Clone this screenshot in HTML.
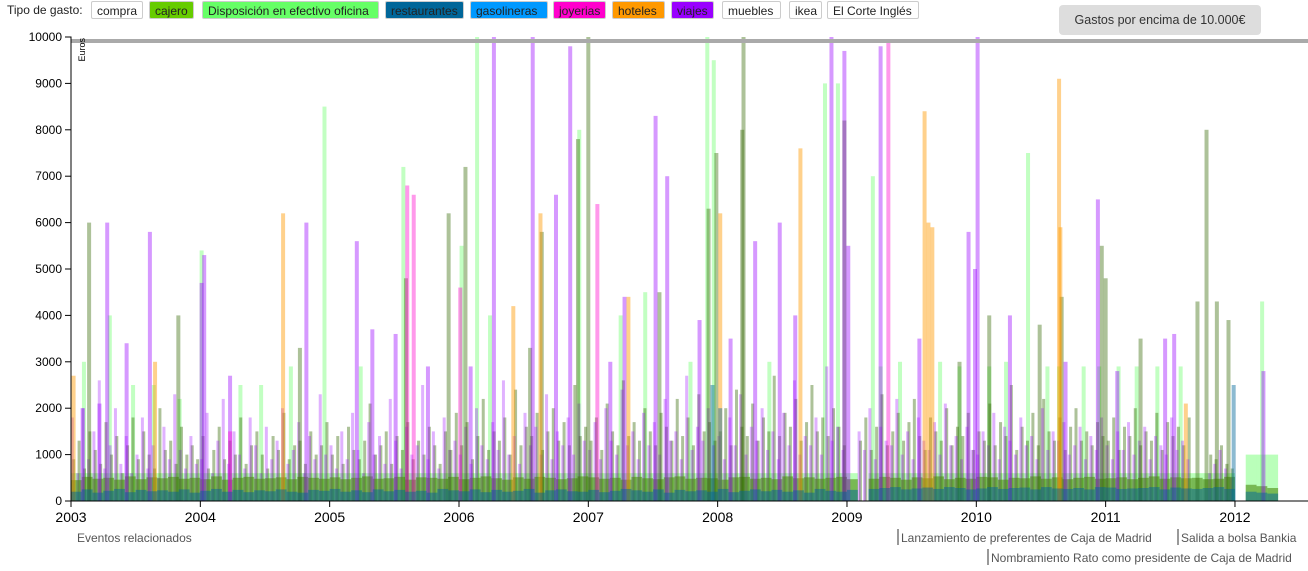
<!DOCTYPE html>
<html><head><meta charset="utf-8"><style>
body{margin:0;width:1308px;height:571px;overflow:hidden;background:#fff;font-family:"Liberation Sans",sans-serif;position:relative}
.lg{position:absolute;top:1px;height:18px;line-height:18px;font-size:12px;border:1px solid #ccc;border-radius:2px;padding:0 5px;box-sizing:border-box;color:#222}
#big{position:absolute;left:1059px;top:5px;width:202px;height:30px;background:#ddd;border-radius:4px;font-size:12.5px;line-height:30px;text-align:center;color:#333}
</style></head><body>
<div style="position:absolute;left:7px;top:3px;font-size:12px;color:#222">Tipo de gasto:</div>
<div class="lg" style="left:91px;width:52px;background:#fff">compra</div>
<div class="lg" style="left:149px;width:45px;background:#66cc00">cajero</div>
<div class="lg" style="left:202px;width:177px;background:#66ff66">Disposición en efectivo oficina</div>
<div class="lg" style="left:385px;width:79px;background:#006699">restaurantes</div>
<div class="lg" style="left:470px;width:78px;background:#0099ff">gasolineras</div>
<div class="lg" style="left:553px;width:53px;background:#ff00cc">joyerias</div>
<div class="lg" style="left:612px;width:53px;background:#ff9900">hoteles</div>
<div class="lg" style="left:671px;width:43px;background:#9900ff">viajes</div>
<div class="lg" style="left:722px;width:59px;background:#fff">muebles</div>
<div class="lg" style="left:789px;width:33px;background:#fff">ikea</div>
<div class="lg" style="left:827px;width:92px;background:#fff">El Corte Inglés</div>
<div id="big">Gastos por encima de 10.000€</div>
<svg id="c" width="1308" height="571" style="position:absolute;left:0;top:0"></svg>
<script>
const yTicks=[0,1000,2000,3000,4000,5000,6000,7000,8000,9000,10000];
const xTicks=[2003,2004,2005,2006,2007,2008,2009,2010,2011,2012];
const cajeroLow=[450,520,480,500,460,530,470,510,490,520,480,500,470,530,460,500,520,480,490,510,470,520,500,480,510,470,500,530,480,490,520,460,510,500,480,520,470,500,530,490,460,510,480,520,500,470,490,530,510,480,500,460,520,490,470,510,530,480,500,490,460,510,520,480,500,470,530,490,510,480,500,520,470,0,480,520,500,460,510,490,530,470,500,480,520,510,460,500,490,530,480,510,470,500,520,480,490,510,470,500,530,480,510,490,500,470,480,520,0,350,320,280];
const dispLow=[600,600,600,600,600,600,600,600,600,600,600,600,600,600,600,600,600,600,600,600,600,600,600,600,600,600,600,600,600,600,600,600,600,600,600,600,600,600,600,600,600,600,600,600,600,600,600,600,600,600,600,600,600,600,600,600,600,600,600,600,600,600,600,600,600,600,600,600,600,600,600,600,600,0,600,600,600,600,600,600,600,600,600,600,600,600,600,600,600,600,600,600,600,600,600,600,600,600,600,600,600,600,600,600,600,600,600,600,0,1000,1000,1000];
const restLow=[200,250,180,220,260,190,240,210,230,200,250,180,220,260,200,240,190,230,210,250,200,180,240,220,260,200,230,190,250,210,240,200,220,180,260,230,210,250,190,240,200,220,260,180,230,250,210,200,240,190,220,260,230,200,250,180,240,210,230,200,260,190,220,250,210,240,200,230,180,260,220,200,240,0,260,280,300,250,270,290,260,300,280,250,270,300,260,280,290,250,300,270,260,280,250,300,290,260,270,280,300,250,290,270,260,280,300,260,0,200,180,160];
// half-monthly mid-level cash (cajero) amounts
const cajeroMid=[900,1300,700,1500,1100,800,1700,1000,1400,600,1200,1800,900,1500,1000,700,2000,1100,1300,800,1600,1000,1200,900,
1400,700,1100,1600,900,1300,1000,1800,800,1200,1500,1000,700,1400,1100,1900,900,1200,1300,800,1500,1000,1200,1700,
1000,1400,800,1600,1100,900,1300,2100,1000,1200,1500,800,1400,1100,1700,900,1300,1000,1600,1200,800,1500,1100,1900,
1200,1700,900,1400,2200,1100,1500,1300,1800,1000,2400,1200,1600,1400,1900,1100,1500,2000,1300,1700,1200,2500,1400,1600,
1300,1800,1100,2100,1500,1200,2600,1400,1700,1300,2000,1500,1200,1900,1600,1300,2200,1400,1800,1200,2300,1500,1700,1300,
1500,2000,1200,2400,1600,1400,2100,1300,1800,1500,2700,1400,1900,1600,2200,1300,1700,2500,1500,1800,1400,2000,1600,1200,
0,0,1300,1800,1100,1600,2300,1200,1500,1900,1300,1700,2200,1400,1100,1800,1500,1300,2000,1200,1600,1400,1900,1100,
1500,1300,2100,1200,1700,1400,2500,1100,1600,1300,1900,1200,2200,1500,1300,1800,1100,1600,2000,1300,1500,1200,1700,1400,
1300,1800,1100,1600,1400,2000,1200,1500,1300,1900,1100,1700,1400,1600,1200,1800,0,0,0,1000,900,1200,800,700];
const viajesMid=[1800,600,2000,900,1500,2600,700,1200,2000,800,1400,600,1000,1800,700,1200,500,1600,900,2300,1100,700,1400,800,
900,1900,600,1300,2200,800,1500,1000,700,1800,1200,600,1600,900,1300,2000,800,1100,1700,600,1400,900,2300,1000,
1200,700,1500,900,1900,1100,600,1700,1000,1400,800,2200,1300,700,1600,1000,1200,2500,900,1500,700,1800,1100,1300,
1000,1600,800,2000,1200,900,1700,1100,2600,1000,1400,800,1900,1200,1600,1000,2300,900,1500,1200,1800,1000,2100,1300,
1100,1700,900,2000,1300,1000,2400,1200,1500,900,1900,1200,1700,1000,2200,1300,1500,900,2700,1100,1600,1300,2000,1200,
1400,900,1800,1200,2300,1000,1600,1300,2000,1100,1500,900,1900,1200,2600,1000,1400,1200,1800,1000,2900,1300,1600,1100,
0,0,1500,1100,2000,900,1600,1300,1200,2200,1000,1500,900,1800,1300,1100,1700,1000,2100,1200,1400,900,1600,1100,
1000,1500,1200,1900,900,1600,1300,1000,1800,1200,1400,900,2000,1100,1500,1300,1700,1000,1200,1600,900,1400,1100,1800,
1200,900,1500,1100,1700,1000,1300,1600,900,1400,1200,1000,1800,1100,1300,900,0,0,0,600,800,1100,700,500];
const viajesDates=[2003.09,2003.22,2003.28,2003.43,2003.61,2004.01,2004.03,2004.23,2004.82,2005.21,2005.33,2005.51,2005.76,2006.09,2006.27,2006.57,2006.75,2006.86,2007.17,2007.28,2007.52,2007.61,2007.86,2008.10,2008.29,2008.48,2008.60,2008.88,2008.98,2009.01,2009.26,2009.56,2009.94,2009.99,2010.01,2010.26,2010.69,2010.94,2011.09,2011.46,2011.53,2012.22];
const viajesVals=[2000,2100,6000,3400,5800,4700,5300,2700,6000,5600,3700,3600,2900,2900,10000,10000,6600,9800,3000,4400,8300,7000,3900,3500,5600,6000,4000,10000,9700,5500,9800,3500,5800,5000,10000,4000,3000,6500,2800,3500,3600,2800];
const dispDates=[2003.10,2003.30,2003.48,2003.64,2003.84,2004.01,2004.31,2004.47,2004.70,2004.96,2005.24,2005.57,2006.02,2006.14,2006.24,2006.93,2007.25,2007.44,2007.79,2007.92,2007.97,2008.40,2008.83,2008.93,2009.20,2009.26,2009.41,2009.72,2009.87,2010.10,2010.23,2010.40,2010.55,2010.64,2010.83,2010.95,2011.10,2011.24,2011.40,2011.58,2012.21];
const dispVals=[3000,4000,2500,2500,2200,5400,2500,2500,2900,8500,2900,7200,5500,10000,4000,8000,4000,4500,3000,10000,9500,3000,9000,9000,7000,2900,3000,3000,2900,2900,3000,7500,2900,2900,2900,2900,2900,2900,2900,2900,4300];
const cajeroDates=[2003.14,2003.83,2004.77,2005.59,2005.92,2006.05,2006.55,2006.64,2006.92,2007.00,2007.55,2007.93,2007.99,2008.19,2008.20,2008.98,2009.87,2010.10,2010.49,2010.66,2010.97,2011.00,2011.27,2011.71,2011.78,2011.86,2011.95];
const cajeroVals=[6000,4000,3300,4800,6200,7200,3300,5800,7800,10000,4500,6300,7500,8000,10000,8200,3000,4000,3800,4400,5500,4800,3500,4300,8000,4300,3900];
const hotelDates=[2003.02,2003.65,2004.64,2006.42,2006.63,2007.31,2008.02,2008.64,2009.60,2009.63,2009.66,2010.64,2010.65,2011.62];
const hotelVals=[2700,3000,6200,4200,6200,4400,6200,7600,8400,6000,5900,9100,5900,2100];
const joyaDates=[2004.23,2005.60,2005.65,2006.01,2007.07,2009.32];
const joyaVals=[1500,6800,6600,4600,6400,9900];
const restDates=[2007.96,2011.99,2008.02];
const restVals=[2500,2500,2000];

const NS="http://www.w3.org/2000/svg";
const svg=document.getElementById('c');
const X=d=>71+(d-2003)*129.33;
const Y=v=>501-v*0.0464;
function mk(t,a){const e=document.createElementNS(NS,t);for(const k in a)e.setAttribute(k,a[k]);svg.appendChild(e);return e;}
function bars(dates,vals,color,op,w,name){
  dates.forEach((d,i)=>{const v=vals[i];if(!v)return;
    const r=mk('rect',{x:X(d)-w/2,y:Y(v),width:w,height:501-Y(v),fill:color,'fill-opacity':op});
    
    
  });
}
const monthDates=cajeroLow.map((_,i)=>2003+i/12+1/24);
const halfDates=cajeroMid.map((_,i)=>2003+i/24+1/48);
const halfDates2=viajesMid.map((_,i)=>2003+i/24+1/96);
bars(monthDates,dispLow,'#66ff66',0.45,10.8,'bar-disposicion-low');
bars(dispDates,dispVals,'#66ff66',0.4,4,'bar-disposicion');
bars(halfDates,cajeroMid,'#336600',0.4,3,'bar-cajero-mid');
bars(halfDates2,viajesMid,'#9900ff',0.3,3,'bar-viajes-mid');
bars(monthDates,cajeroLow,'#4d8a10',0.6,10.8,'bar-cajero-low');
bars(cajeroDates,cajeroVals,'#336600',0.4,4,'bar-cajero');
bars(viajesDates,viajesVals,'#9900ff',0.4,4,'bar-viajes');
bars(hotelDates,hotelVals,'#ff9900',0.45,4,'bar-hoteles');
bars(joyaDates,joyaVals,'#ff00cc',0.4,4,'bar-joyerias');
bars(restDates,restVals,'#006699',0.45,4,'bar-restaurantes');
bars(monthDates,restLow,'#006699',0.5,10.8,'bar-restaurantes-low');
let l=mk('rect',{x:71,y:39,width:1237,height:4,fill:'#aaa'});

let ya=mk('path',{d:'M65,37H71V501H65',stroke:'#000',fill:'none'});

yTicks.forEach(v=>{mk('line',{x1:65,x2:71,y1:Y(v),y2:Y(v),stroke:'#000'});
  const t=mk('text',{x:62,y:Y(v)+4,'text-anchor':'end','font-size':12,fill:'#000'});t.textContent=v;
  });
let xa=mk('line',{x1:71,x2:1308,y1:501,y2:501,stroke:'#000'});

xTicks.forEach(v=>{mk('line',{x1:X(v),x2:X(v),y1:501,y2:507,stroke:'#000'});
  const t=mk('text',{x:X(v),y:522,'text-anchor':'middle','font-size':14,fill:'#000'});t.textContent=v;
  });
let eu=mk('text',{transform:'translate(85,38) rotate(-90)','text-anchor':'end','font-size':9,fill:'#000'});eu.textContent='Euros';

function txt(x,y,s,name){const t=mk('text',{x:x,y:y,'font-size':12,fill:'#555'});t.textContent=s;}
txt(77,542,'Eventos relacionados','events-title');
function ev(x,y,s,name){mk('rect',{x:x,y:y-13,width:2,height:16,fill:'#999'});txt(x+4,y,s,name);}
ev(897,542,'Lanzamiento de preferentes de Caja de Madrid','event-preferentes');
ev(1177,542,'Salida a bolsa Bankia','event-bankia');
ev(987,562,'Nombramiento Rato como presidente de Caja de Madrid','event-rato');
</script>
</body></html>
